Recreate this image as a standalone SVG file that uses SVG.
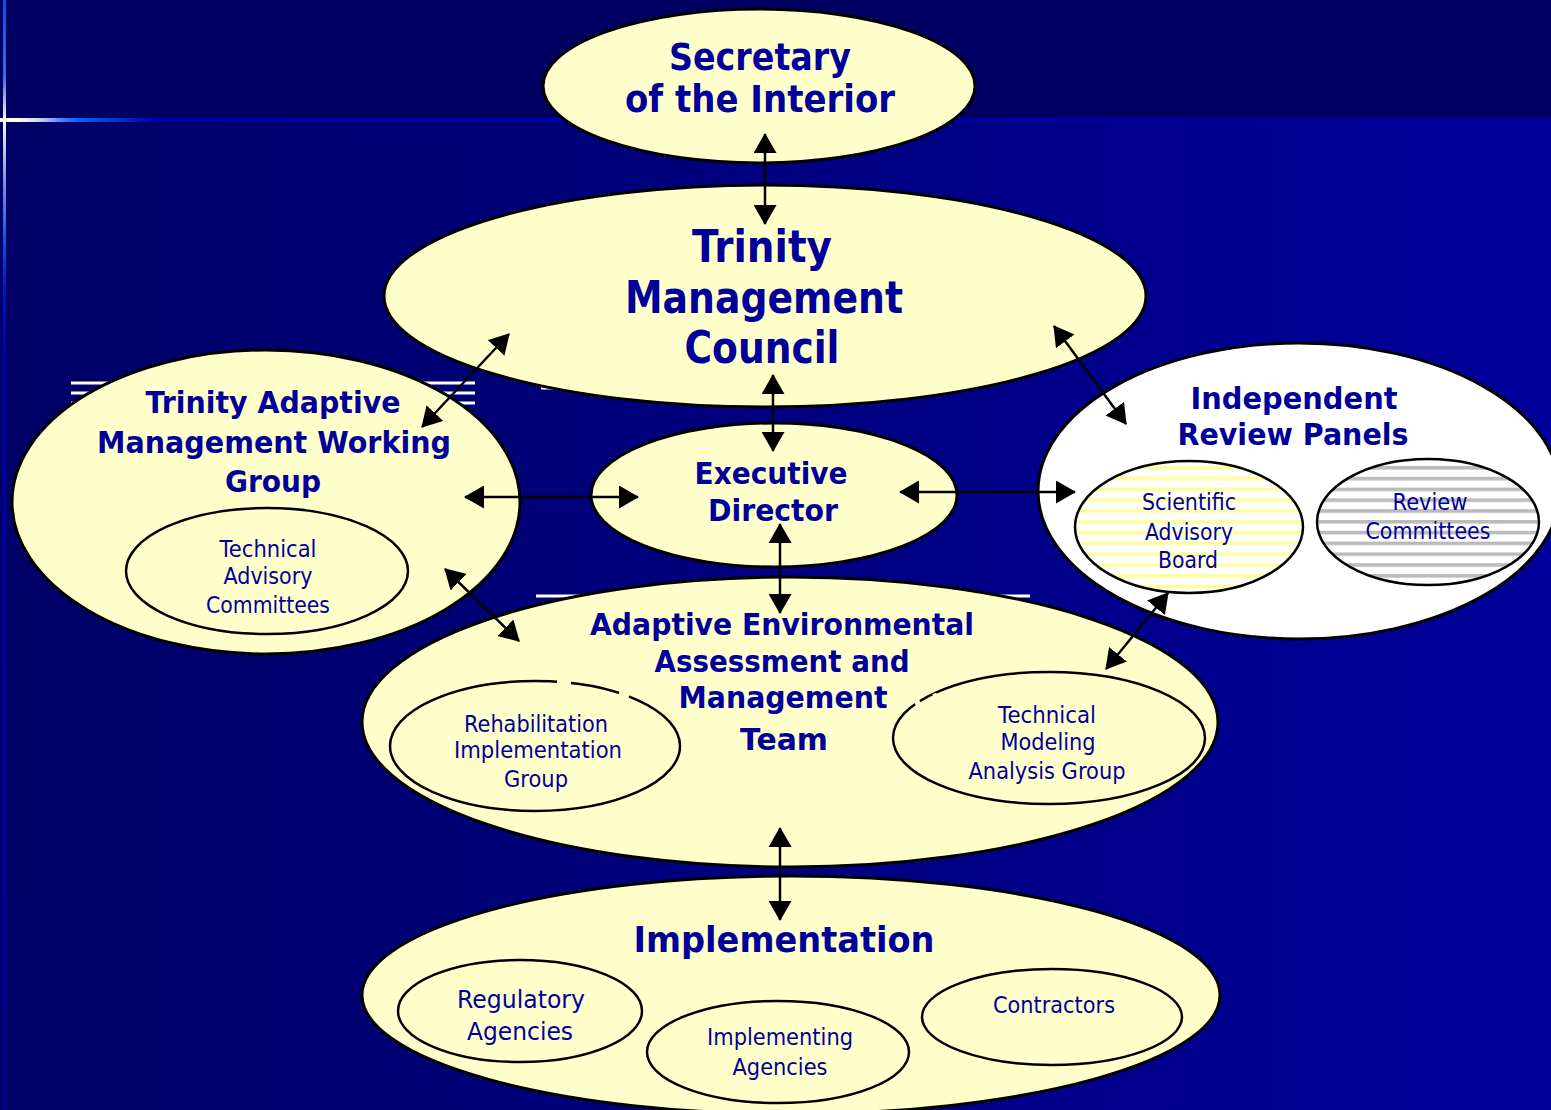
<svg xmlns="http://www.w3.org/2000/svg" width="1551" height="1110" viewBox="0 0 1551 1110">
<defs>
<linearGradient id="bgLow" x1="0" y1="0" x2="1" y2="0">
<stop offset="0" stop-color="#000066"/>
<stop offset="1" stop-color="#00009A"/>
</linearGradient>
<linearGradient id="hline" x1="0" y1="0" x2="1551" y2="0" gradientUnits="userSpaceOnUse">
<stop offset="0" stop-color="#FFFFE0"/>
<stop offset="0.012" stop-color="#FFFFDD"/>
<stop offset="0.026" stop-color="#C8D2EE"/>
<stop offset="0.04" stop-color="#4C7CFF"/>
<stop offset="0.05" stop-color="#0066FF"/>
<stop offset="0.1" stop-color="#0000AA"/>
<stop offset="1" stop-color="#00009A"/>
</linearGradient>
<linearGradient id="vline" x1="0" y1="0" x2="0" y2="1110" gradientUnits="userSpaceOnUse">
<stop offset="0" stop-color="#0050E8"/>
<stop offset="0.07" stop-color="#3A6CE8"/>
<stop offset="0.108" stop-color="#FFFFE8"/>
<stop offset="0.16" stop-color="#8098E8"/>
<stop offset="0.22" stop-color="#0050E8"/>
<stop offset="0.26" stop-color="#0018B8"/>
<stop offset="0.32" stop-color="#0000A8"/>
<stop offset="1" stop-color="#00009A"/>
</linearGradient>
<pattern id="yStripes" patternUnits="userSpaceOnUse" x="0" y="466" width="20" height="10.8">
<rect width="20" height="10.8" fill="#FFFFFF"/>
<rect y="0" width="20" height="3.6" fill="#FFFF9E"/>
</pattern>
<pattern id="gStripes" patternUnits="userSpaceOnUse" x="0" y="466" width="20" height="10.8">
<rect width="20" height="10.8" fill="#FFFFFF"/>
<rect y="0" width="20" height="3.6" fill="#BBBBBB"/>
</pattern>
<marker id="ah" viewBox="0 0 20 23" refX="19" refY="11.5" markerWidth="20" markerHeight="23" markerUnits="userSpaceOnUse" orient="auto-start-reverse">
<path d="M0,0 L20,11.5 L0,23 z" fill="#000000"/>
</marker>
</defs>
<style>
.outer{fill:#FFFFCC;stroke:#000;stroke-width:3}
.inner{fill:#FFFFCC;stroke:#000;stroke-width:2.5}
.h{font-family:"DejaVu Sans","Liberation Sans",sans-serif;font-weight:bold;fill:#000099;text-anchor:middle}
.t{font-family:"DejaVu Sans","Liberation Sans",sans-serif;fill:#000099;text-anchor:middle}
.wl{stroke:#FFFFFF;stroke-width:3}
.patch{stroke:#FFFFCC;stroke-width:4;fill:none}
.conn line{stroke:#000;stroke-width:2.5;marker-start:url(#ah);marker-end:url(#ah)}
</style>

<g id="background">
<rect width="1551" height="1110" fill="url(#bgLow)"/>
<rect width="1551" height="119" fill="#000063"/>
<rect x="0" y="118" width="1551" height="4" fill="url(#hline)"/>
<rect x="3" y="0" width="3" height="1110" fill="url(#vline)"/>
</g>

<g id="artifacts">
<line class="wl" x1="71" y1="383" x2="475" y2="383"/>
<line class="wl" x1="71" y1="393" x2="475" y2="393"/>
<line class="wl" x1="71" y1="403" x2="475" y2="403"/>
<line class="wl" x1="541" y1="388" x2="977" y2="388"/>
<line class="wl" x1="536" y1="596" x2="1030" y2="596"/>
</g>

<g id="secretary">
<ellipse class="outer" cx="759" cy="86" rx="216" ry="77"/>
<text class="h" font-size="37" x="760" y="70" textLength="182" lengthAdjust="spacingAndGlyphs">Secretary</text>
<text class="h" font-size="37" x="760" y="112" textLength="270" lengthAdjust="spacingAndGlyphs">of the Interior</text>
</g>

<g id="tmc">
<ellipse class="outer" cx="765" cy="296" rx="381" ry="111"/>
<text class="h" font-size="44" x="762" y="262" textLength="140" lengthAdjust="spacingAndGlyphs">Trinity</text>
<text class="h" font-size="44" x="764" y="313" textLength="278" lengthAdjust="spacingAndGlyphs">Management</text>
<text class="h" font-size="44" x="762" y="363" textLength="155" lengthAdjust="spacingAndGlyphs">Council</text>
</g>

<g id="tamwg">
<ellipse class="outer" cx="266" cy="502" rx="254" ry="152"/>
<text class="h" font-size="31" x="273" y="413" textLength="255" lengthAdjust="spacingAndGlyphs">Trinity Adaptive</text>
<text class="h" font-size="31" x="274" y="453" textLength="354" lengthAdjust="spacingAndGlyphs">Management Working</text>
<text class="h" font-size="31" x="273" y="492" textLength="96" lengthAdjust="spacingAndGlyphs">Group</text>
</g>

<g id="tac">
<ellipse class="inner" cx="267" cy="571" rx="141" ry="63"/>
<text class="t" font-size="23.5" x="268" y="557" textLength="97" lengthAdjust="spacingAndGlyphs">Technical</text>
<text class="t" font-size="23.5" x="268" y="584" textLength="89" lengthAdjust="spacingAndGlyphs">Advisory</text>
<text class="t" font-size="23.5" x="268" y="613" textLength="124" lengthAdjust="spacingAndGlyphs">Committees</text>
</g>

<g id="executive">
<ellipse class="outer" cx="774" cy="495" rx="183" ry="72"/>
<text class="h" font-size="30" x="771" y="484" textLength="153" lengthAdjust="spacingAndGlyphs">Executive</text>
<text class="h" font-size="30" x="773" y="521" textLength="130" lengthAdjust="spacingAndGlyphs">Director</text>
</g>

<g id="irp">
<ellipse cx="1299" cy="491" rx="261" ry="148" fill="#FFFFFF" stroke="#000" stroke-width="3"/>
<text class="h" font-size="31" x="1294" y="409" textLength="207" lengthAdjust="spacingAndGlyphs">Independent</text>
<text class="h" font-size="31" x="1293" y="445" textLength="231" lengthAdjust="spacingAndGlyphs">Review Panels</text>
</g>

<g id="sab">
<ellipse cx="1189" cy="527" rx="114" ry="66" fill="url(#yStripes)" stroke="#000" stroke-width="2.5"/>
<text class="t" font-size="23.5" x="1189" y="510" textLength="94" lengthAdjust="spacingAndGlyphs">Scientific</text>
<text class="t" font-size="23.5" x="1189" y="540" textLength="88" lengthAdjust="spacingAndGlyphs">Advisory</text>
<text class="t" font-size="23.5" x="1188" y="568" textLength="60" lengthAdjust="spacingAndGlyphs">Board</text>
</g>

<g id="rc">
<ellipse cx="1428" cy="522" rx="111" ry="63" fill="url(#gStripes)" stroke="#000" stroke-width="2.5"/>
<text class="t" font-size="23.5" x="1430" y="510" textLength="75" lengthAdjust="spacingAndGlyphs">Review</text>
<text class="t" font-size="23.5" x="1428" y="539" textLength="125" lengthAdjust="spacingAndGlyphs">Committees</text>
</g>

<g id="aeamt">
<ellipse class="outer" cx="790" cy="722" rx="428" ry="145"/>
<text class="h" font-size="30" x="782" y="635" textLength="384" lengthAdjust="spacingAndGlyphs">Adaptive Environmental</text>
<text class="h" font-size="30" x="782" y="672" textLength="255" lengthAdjust="spacingAndGlyphs">Assessment and</text>
<text class="h" font-size="30" x="783" y="708" textLength="209" lengthAdjust="spacingAndGlyphs">Management</text>
<text class="h" font-size="30" x="784" y="750" textLength="88" lengthAdjust="spacingAndGlyphs">Team</text>
</g>

<g id="rig">
<ellipse class="inner" cx="535" cy="746" rx="145" ry="65"/>
<line class="patch" x1="557" y1="681.7" x2="571" y2="683"/>
<line class="patch" x1="619" y1="693" x2="629" y2="696.5"/>
<text class="t" font-size="23.5" x="536" y="732" textLength="144" lengthAdjust="spacingAndGlyphs">Rehabilitation</text>
<text class="t" font-size="23.5" x="538" y="758" textLength="168" lengthAdjust="spacingAndGlyphs">Implementation</text>
<text class="t" font-size="23.5" x="536" y="787" textLength="64" lengthAdjust="spacingAndGlyphs">Group</text>
</g>

<g id="tmag">
<ellipse class="inner" cx="1049" cy="738" rx="156" ry="66"/>
<line class="patch" x1="915" y1="704" x2="920" y2="701.5"/>
<line class="patch" x1="933" y1="696" x2="937" y2="694.5"/>
<text class="t" font-size="23.5" x="1047" y="723" textLength="98" lengthAdjust="spacingAndGlyphs">Technical</text>
<text class="t" font-size="23.5" x="1048" y="750" textLength="95" lengthAdjust="spacingAndGlyphs">Modeling</text>
<text class="t" font-size="23.5" x="1047" y="779" textLength="157" lengthAdjust="spacingAndGlyphs">Analysis Group</text>
</g>

<g id="implementation">
<ellipse class="outer" cx="791" cy="995" rx="429" ry="119"/>
<text class="h" font-size="36" x="784" y="952" textLength="301" lengthAdjust="spacingAndGlyphs">Implementation</text>
</g>

<g id="regulatory">
<ellipse class="inner" cx="520" cy="1011" rx="122" ry="51"/>
<text class="t" font-size="25" x="521" y="1008" textLength="128" lengthAdjust="spacingAndGlyphs">Regulatory</text>
<text class="t" font-size="25" x="520" y="1040" textLength="106" lengthAdjust="spacingAndGlyphs">Agencies</text>
</g>

<g id="implementing">
<ellipse class="inner" cx="778" cy="1052" rx="131" ry="51"/>
<text class="t" font-size="23.5" x="780" y="1045" textLength="146" lengthAdjust="spacingAndGlyphs">Implementing</text>
<text class="t" font-size="23.5" x="780" y="1075" textLength="95" lengthAdjust="spacingAndGlyphs">Agencies</text>
</g>

<g id="contractors">
<ellipse class="inner" cx="1052" cy="1017" rx="130" ry="48"/>
<text class="t" font-size="23.5" x="1054" y="1013" textLength="122" lengthAdjust="spacingAndGlyphs">Contractors</text>
</g>

<g id="connectors" class="conn">
<line x1="765" y1="134" x2="765" y2="224"/>
<line x1="773" y1="375" x2="773" y2="451"/>
<line x1="509" y1="334" x2="422" y2="427"/>
<line x1="1054" y1="326" x2="1126" y2="424"/>
<line x1="465" y1="497" x2="638" y2="497"/>
<line x1="900" y1="492" x2="1075" y2="492"/>
<line x1="780" y1="524" x2="780" y2="613"/>
<line x1="445" y1="569" x2="519" y2="641"/>
<line x1="1168" y1="593" x2="1106" y2="669"/>
<line x1="780" y1="828" x2="780" y2="920"/>
</g>
</svg>
